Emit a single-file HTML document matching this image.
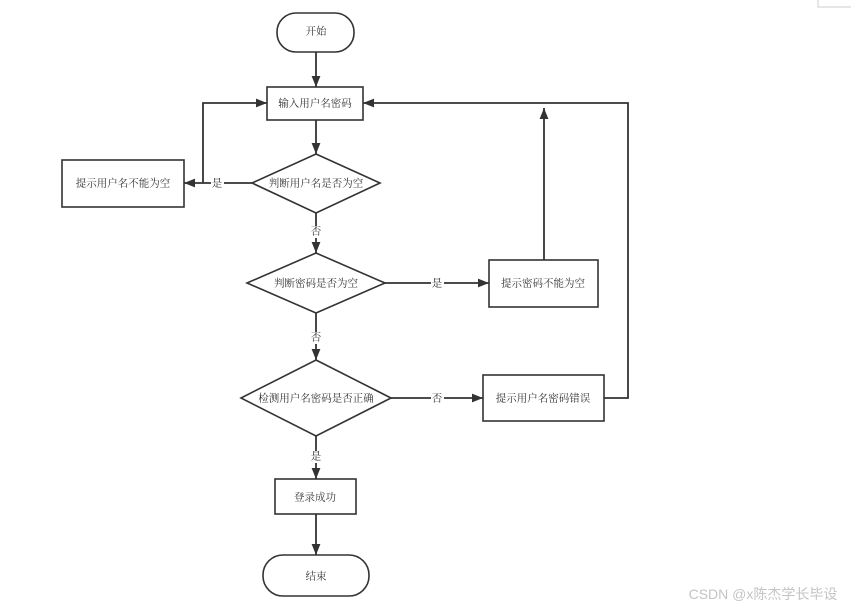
<!DOCTYPE html>
<html><head><meta charset="utf-8"><style>
html,body{margin:0;padding:0;background:#fff;width:851px;height:609px;overflow:hidden}
svg{display:block}
text{font-family:"Liberation Serif","Noto Serif CJK SC",serif;font-size:10.5px;fill:#333;text-anchor:middle;dominant-baseline:central}
.s{fill:#fff;stroke:#333;stroke-width:1.6}
.l{fill:none;stroke:#333;stroke-width:1.8}
</style></head><body>
<svg width="851" height="609" viewBox="0 0 851 609" xmlns="http://www.w3.org/2000/svg">
<defs><marker id="a" viewBox="0 0 10 10" refX="10" refY="5" markerWidth="11" markerHeight="11" markerUnits="userSpaceOnUse" orient="auto"><path d="M0,1L10,5L0,9z" fill="#333"/></marker></defs>
<path d="M818,0V7H851" fill="none" stroke="#ccc" stroke-width="1"/>
<path class="l" d="M316,52V87" marker-end="url(#a)"/>
<path class="l" d="M316,120V154" marker-end="url(#a)"/>
<path class="l" d="M252,183H184" marker-end="url(#a)"/>
<path class="l" d="M203,183V103H267" marker-end="url(#a)"/>
<path class="l" d="M316,213V253" marker-end="url(#a)"/>
<path class="l" d="M385,283H489" marker-end="url(#a)"/>
<path class="l" d="M544,260V108" marker-end="url(#a)"/>
<path class="l" d="M316,313V360" marker-end="url(#a)"/>
<path class="l" d="M391,398H483" marker-end="url(#a)"/>
<path class="l" d="M604,398H628V103H363" marker-end="url(#a)"/>
<path class="l" d="M316,436V479" marker-end="url(#a)"/>
<path class="l" d="M316,514V555" marker-end="url(#a)"/>
<rect class="s" x="277" y="13" width="77" height="39" rx="19"/>
<rect class="s" x="267" y="87" width="96" height="33"/>
<polygon class="s" points="316,154 380,183 316,213 252,183"/>
<rect class="s" x="62" y="160" width="122" height="47"/>
<polygon class="s" points="316,253 385,283 316,313 247,283"/>
<rect class="s" x="489" y="260" width="109" height="47"/>
<polygon class="s" points="316,360 391,398 316,436 241,398"/>
<rect class="s" x="483" y="375" width="121" height="46"/>
<rect class="s" x="275" y="479" width="81" height="35"/>
<rect class="s" x="263" y="555" width="106" height="41" rx="20"/>
<text x="316" y="32">开始</text>
<text x="315" y="104">输入用户名密码</text>
<text x="316" y="184">判断用户名是否为空</text>
<text x="123" y="184">提示用户名不能为空</text>
<rect x="211" y="177" width="13" height="12" fill="#fff"/><text x="217" y="184">是</text>
<rect x="310" y="226" width="13" height="12" fill="#fff"/><text x="316" y="232">否</text>
<text x="316" y="284">判断密码是否为空</text>
<rect x="431" y="277" width="13" height="12" fill="#fff"/><text x="437" y="284">是</text>
<text x="543" y="284">提示密码不能为空</text>
<rect x="310" y="332" width="13" height="12" fill="#fff"/><text x="316" y="338">否</text>
<text x="316" y="399">检测用户名密码是否正确</text>
<rect x="431" y="392" width="13" height="12" fill="#fff"/><text x="437" y="399">否</text>
<text x="543" y="399">提示用户名密码错误</text>
<rect x="310" y="451" width="13" height="12" fill="#fff"/><text x="316" y="457">是</text>
<text x="315" y="498">登录成功</text>
<text x="316" y="577">结束</text>
<text x="763" y="594" style="font-family:'Liberation Sans','Noto Sans CJK SC',sans-serif;font-size:14px;fill:#c4c4c4">CSDN @x陈杰学长毕设</text>
<text x="196" y="623" style="font-size:25px;fill:#000;text-anchor:start">图3-1  用户登录界面流程图</text>
</svg>
</body></html>
